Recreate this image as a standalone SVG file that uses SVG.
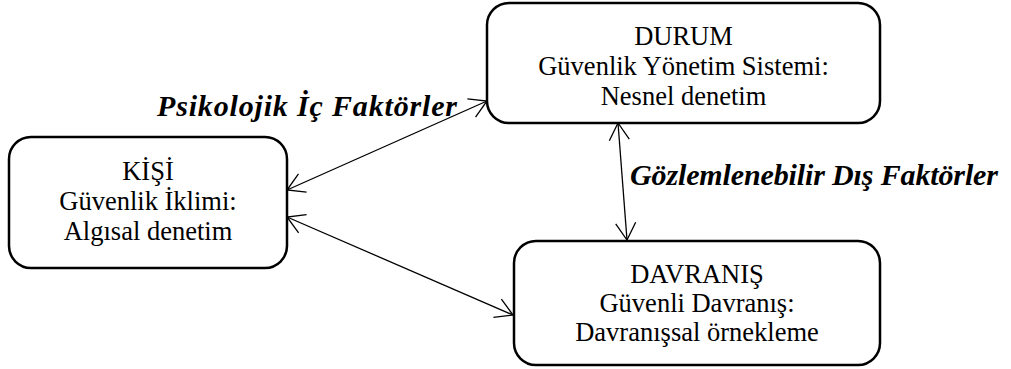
<svg xmlns="http://www.w3.org/2000/svg" width="1011" height="369" viewBox="0 0 1011 369">
<style>
.box{fill:#fff;stroke:#000;stroke-width:2.5}
.t{font-family:"Liberation Serif","Times New Roman",serif;font-size:26.5px;fill:#000;text-anchor:middle}
.lbl{font-family:"Liberation Serif","Times New Roman",serif;font-size:30px;font-weight:bold;font-style:italic;fill:#000}
.c{stroke:#000;stroke-width:1.3;fill:none;marker-start:url(#ah);marker-end:url(#ah)}
</style>
<defs>
<marker id="ah" markerUnits="userSpaceOnUse" viewBox="-20 -12 24 24" markerWidth="24" markerHeight="24" refX="0" refY="0" orient="auto-start-reverse" overflow="visible">
<path d="M-17,-10 L0,0 L-17,10" fill="none" stroke="#000" stroke-width="1.3"/>
</marker>
</defs>
<rect width="1011" height="369" fill="#fff"/>
<g id="connectors">
<line class="c" x1="287" y1="190" x2="487" y2="101"/>
<line class="c" x1="287" y1="217" x2="513" y2="315"/>
<line class="c" x1="618" y1="123" x2="627" y2="240"/>
</g>
<g id="kisi">
<rect class="box" x="9" y="137" width="278" height="131" rx="22"/>
<text class="t" x="148" y="180">KİŞİ</text>
<text class="t" x="148" y="210">Güvenlik İklimi:</text>
<text class="t" x="148" y="240">Algısal denetim</text>
</g>
<g id="durum">
<rect class="box" x="487" y="3" width="393" height="120" rx="22"/>
<text class="t" x="683.5" y="45">DURUM</text>
<text class="t" x="683.5" y="75">Güvenlik Yönetim Sistemi:</text>
<text class="t" x="683.5" y="105">Nesnel denetim</text>
</g>
<g id="davranis">
<rect class="box" x="514" y="241" width="366" height="124" rx="22"/>
<text class="t" x="697" y="283">DAVRANIŞ</text>
<text class="t" x="697" y="312">Güvenli Davranış:</text>
<text class="t" x="697" y="341">Davranışsal örnekleme</text>
</g>
<g id="labels">
<text class="lbl" x="157" y="116" textLength="300" lengthAdjust="spacing">Psikolojik İç Faktörler</text>
<text class="lbl" x="630" y="185" textLength="368" lengthAdjust="spacing">Gözlemlenebilir Dış Faktörler</text>
</g>
</svg>
